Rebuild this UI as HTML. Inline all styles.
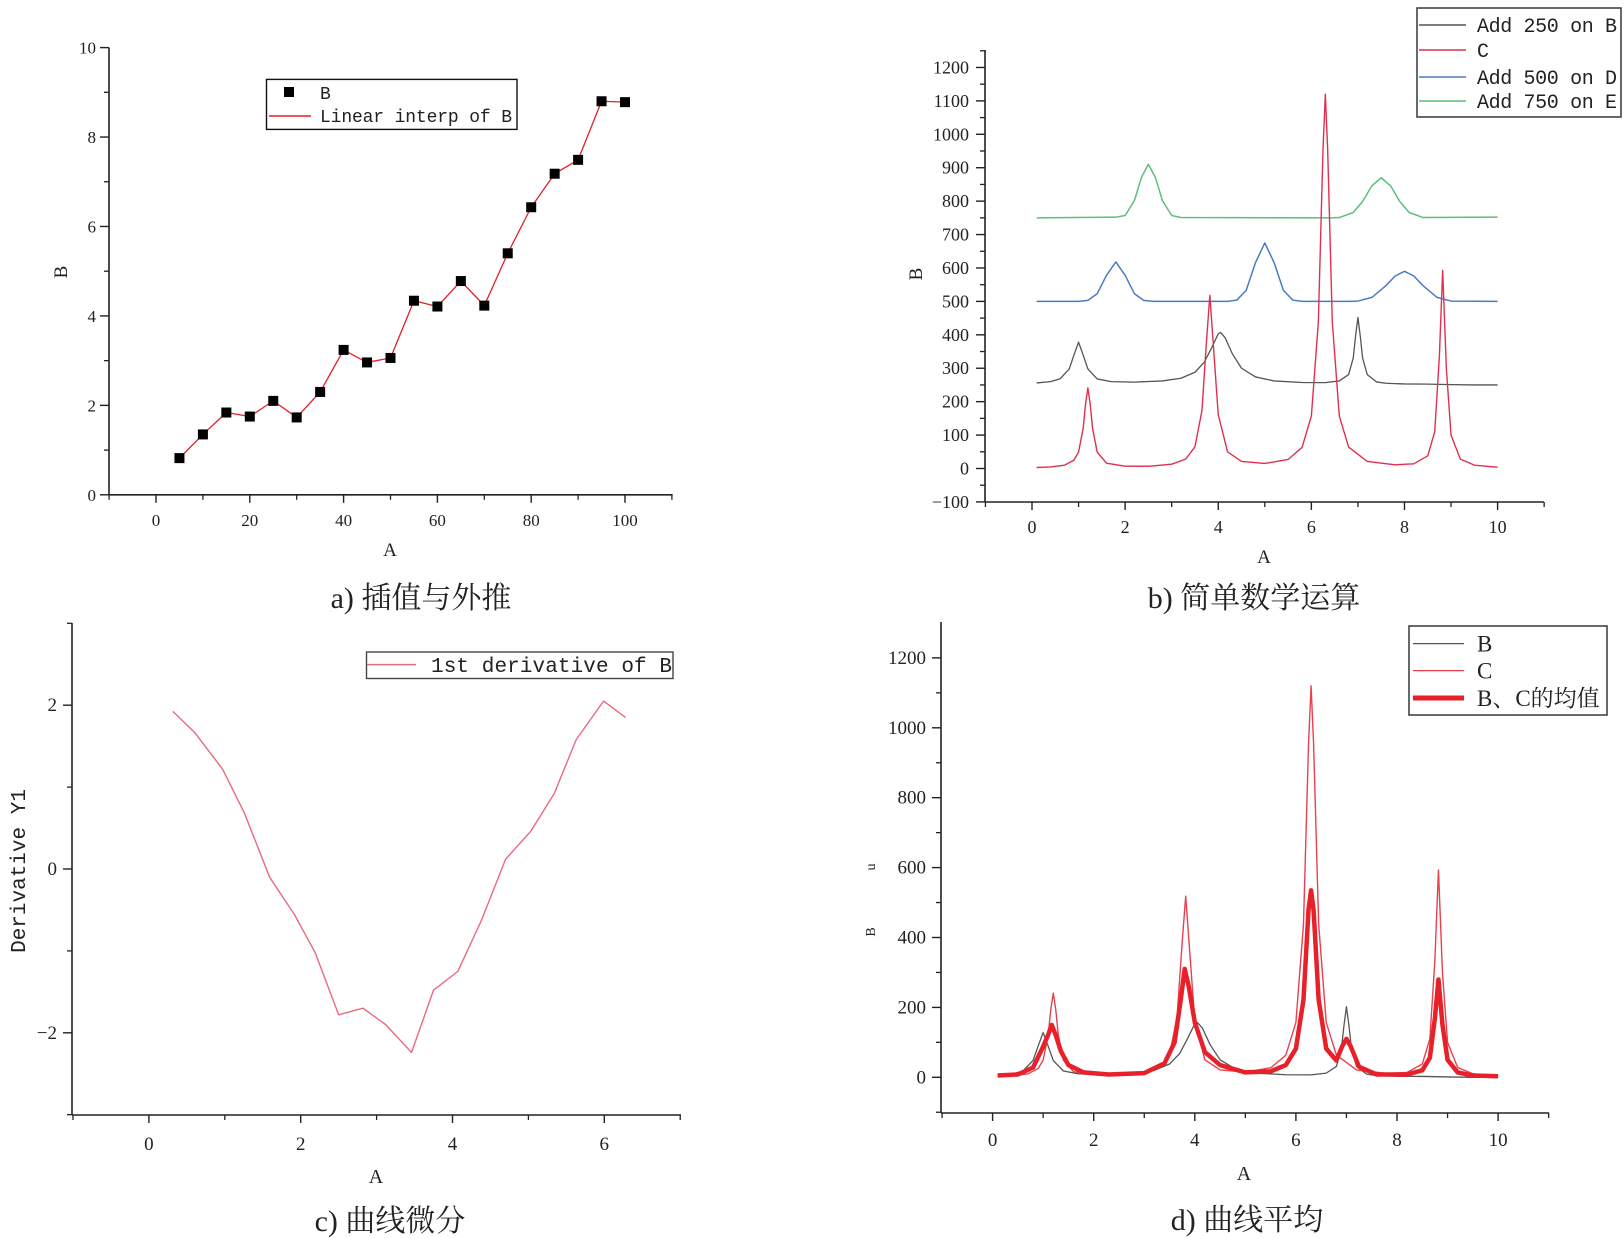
<!DOCTYPE html>
<html><head><meta charset="utf-8"><style>
html,body{margin:0;padding:0;background:#fff;}
svg{display:block;}
text{font-family:"Liberation Serif","Noto Serif CJK SC",serif;fill:#222;}
.mono{font-family:"Liberation Mono","Noto Sans CJK SC",monospace;}
</style></head><body>
<svg id="fig" width="1624" height="1238" viewBox="0 0 1624 1238" xmlns="http://www.w3.org/2000/svg"></svg>
<script>
// ---- Panel a data ----
const aX=[5,10,15,20,25,30,35,40,45,50,55,60,65,70,75,80,85,90,95,100];
const aY=[0.82,1.35,1.84,1.75,2.1,1.73,2.3,3.24,2.96,3.06,4.34,4.21,4.78,4.23,5.4,6.43,7.18,7.49,8.8,8.78];
// ---- B, C, D, E curves ----
const bX=[0.1,0.4,0.6,0.8,0.9,1.0,1.1,1.2,1.4,1.7,2.2,2.8,3.2,3.5,3.7,3.85,4.0,4.05,4.15,4.3,4.5,4.8,5.2,5.8,6.3,6.6,6.8,6.9,6.95,7.0,7.05,7.1,7.2,7.4,7.6,8.0,8.5,9.0,9.5,10];
const bY=[6,10,18,48,89,128,89,48,18,10,8.5,12,20,38,68,109,153,157,141,94,50,24,12,7.3,7,12,31,81,147,202,147,81,31,9,5,3,2.5,1,0,0];
const cX=[0.1,0.4,0.7,0.9,1.0,1.1,1.15,1.2,1.25,1.3,1.4,1.6,2.0,2.5,3.0,3.3,3.5,3.65,3.75,3.82,3.9,4.0,4.2,4.5,5.0,5.5,5.8,6.0,6.15,6.25,6.3,6.35,6.45,6.6,6.8,7.2,7.8,8.2,8.5,8.65,8.75,8.82,8.9,9.0,9.2,9.5,10];
const cY=[3,4.7,10,25,49,121,193,241,193,121,49,16,7,6.7,13,28,65,173,386,518,359,161,50,21,15,27,63,157,438,955,1120,955,438,157,64,21,11,14,38,110,337,593,298,100,28,10,4];
const dX=[0.1,1.0,1.2,1.4,1.6,1.8,2.0,2.2,2.4,2.6,4.2,4.4,4.6,4.8,5.0,5.2,5.4,5.6,5.8,6.8,7.0,7.3,7.6,7.8,8.0,8.2,8.4,8.7,9.0,10];
const dY=[0,0,3,23,78,118,78,23,3,0,0,4,33,116,175,116,33,4,0,0,1,12,47,76,90,76,47,12,1,0];
const eX=[0.1,1.8,2.0,2.2,2.35,2.5,2.65,2.8,3.0,3.2,6.4,6.6,6.9,7.1,7.3,7.5,7.7,7.9,8.1,8.4,10];
const eY=[0,2,7,52,121,160,121,52,7,1,0,1,16,49,96,120,96,49,16,1,2];
const offsets=[250,0,500,750];
// ---- Mean of B and C ----
const mX=[0.1,0.5,0.8,1.0,1.1,1.17,1.25,1.35,1.5,1.8,2.3,3.0,3.4,3.6,3.72,3.8,3.88,4.0,4.2,4.5,5.0,5.5,5.8,6.0,6.15,6.25,6.3,6.35,6.45,6.6,6.8,6.92,7.0,7.08,7.25,7.6,8.2,8.5,8.65,8.75,8.82,8.9,9.0,9.2,9.5,10];
const mY=[5,8,28,88,122,150,120,75,35,14,8,12,40,100,220,310,260,157,72,35,14,17,35,82,222,480,535,478,222,82,48,90,110,90,30,8,8,20,56,170,280,150,50,14,5,3];
// ---- Panel c data ----
const dvX=[0.315,0.6,0.97,1.26,1.59,1.92,2.19,2.5,2.82,3.12,3.46,3.75,4.07,4.38,4.7,5.03,5.34,5.63,5.99,6.28];
const dvY=[1.925,1.67,1.22,0.68,-0.1,-0.56,-1.02,-1.78,-1.70,-1.9,-2.24,-1.48,-1.25,-0.63,0.12,0.46,0.92,1.58,2.05,1.85];
// ---- tick labels ----
const aXT=[0,20,40,60,80,100], aYT=[0,2,4,6,8,10];
const bXT=[0,2,4,6,8,10], bYT=[-100,0,100,200,300,400,500,600,700,800,900,1000,1100,1200];
const cXT=[0,2,4,6], cYT=[-2,0,2];
const dXT=[0,2,4,6,8,10], dYT=[0,200,400,600,800,1000,1200];

const NS='http://www.w3.org/2000/svg';
const svg=document.getElementById('fig');
function mk(tag,attrs,parent){const e=document.createElementNS(NS,tag);for(const k in attrs)e.setAttribute(k,attrs[k]);(parent||svg).appendChild(e);return e;}
function txt(s,attrs,parent){const e=mk('text',attrs,parent);e.textContent=s;return e;}

function axes(g,c){
  // c: x0 (axis x), y0 (axis y), top, right, X(), Y(), xMaj, xMin, yMaj, yMin, fs, xlabY, ylabX
  let e=mk('line',{x1:c.x0,y1:c.top,x2:c.x0,y2:c.y0,stroke:'#222','stroke-width':1.6},g);
  
  e=mk('line',{x1:c.x0,y1:c.y0,x2:c.right,y2:c.y0,stroke:'#222','stroke-width':1.6},g);
  
  c.yMin.forEach(v=>{const t=mk('line',{x1:c.x0-5,y1:c.Y(v),x2:c.x0,y2:c.Y(v),stroke:'#222','stroke-width':1.3},g);
    });
  c.yMaj.forEach(v=>{const t=mk('line',{x1:c.x0-9,y1:c.Y(v),x2:c.x0,y2:c.Y(v),stroke:'#222','stroke-width':1.4},g);
    
    const l=txt(String(v).replace('-','\u2212'),{x:c.ylabX,y:c.Y(v)+6,'text-anchor':'end','font-size':c.fs},g);
    });
  c.xMin.forEach(v=>{const t=mk('line',{x1:c.X(v),y1:c.y0,x2:c.X(v),y2:c.y0+5,stroke:'#222','stroke-width':1.3},g);
    });
  c.xMaj.forEach(v=>{const t=mk('line',{x1:c.X(v),y1:c.y0,x2:c.X(v),y2:c.y0+8,stroke:'#222','stroke-width':1.4},g);
    
    const l=txt(String(v),{x:c.X(v),y:c.xlabY,'text-anchor':'middle','font-size':c.fs},g);
    });
}
function path(g,xs,ys,X,Y,off,stroke,w,name){
  const d=xs.map((x,i)=>(i?'L':'M')+X(x).toFixed(2)+','+Y(ys[i]+off).toFixed(2)).join('');
  const p=mk('path',{d:d,fill:'none',stroke:stroke,'stroke-width':w,'stroke-linejoin':'round'},g);
  return p;
}
function range(a,b,s){const r=[];for(let v=a;v<=b+1e-9;v+=s)r.push(+v.toFixed(6));return r;}

// ================= Panel a =================
(function(){
const g=mk('g',{});

const X=v=>156+v*4.69, Y=v=>494.8-v*44.72;
axes(g,{x0:109,y0:494.8,top:47.6,right:672.6,X,Y,xMaj:aXT,xMin:range(-10,110,10).filter(v=>aXT.indexOf(v)<0),
  yMaj:aYT,yMin:[1,3,5,7,9],fs:17,xlabY:526,ylabX:96});
path(g,aX,aY,X,Y,0,'#e0202a',1.3,'linear-interp-line');
aX.forEach((x,i)=>{const r=mk('rect',{x:X(x)-5,y:Y(aY[i])-5,width:10,height:10,fill:'#000'},g);
  });
let t=txt('A',{x:390,y:556,'text-anchor':'middle','font-size':19},g);
t=txt('B',{x:0,y:0,'text-anchor':'middle','font-size':19,transform:'translate(67,272) rotate(-90)'},g);
const lg=mk('g',{},g);
let b=mk('rect',{x:266.5,y:79.4,width:250.5,height:50,fill:'#fff',stroke:'#111','stroke-width':1.4},lg);
b=mk('rect',{x:284,y:87,width:10,height:10,fill:'#000'},lg);
t=txt('B',{x:320,y:99,'font-size':18,class:'mono'},lg);
b=mk('line',{x1:269,y1:116,x2:311,y2:116,stroke:'#e0202a','stroke-width':1.4},lg);
t=txt('Linear interp of B',{x:320,y:122,'font-size':18,class:'mono',textLength:192},lg);
t=txt('a) 插值与外推',{x:421,y:608,'text-anchor':'middle','font-size':30},g);
})();

// ================= Panel b =================
(function(){
const g=mk('g',{});

const X=v=>1032+v*46.56, Y=v=>468.5-v*0.3342;
axes(g,{x0:985,y0:502,top:50,right:1544,X,Y,xMaj:bXT,xMin:[-1,1,3,5,7,9,11],
  yMaj:bYT,yMin:range(-50,1250,100),fs:18,xlabY:533,ylabX:969});
path(g,bX,bY,X,Y,offsets[0],'#555','1.3','series-add-250-on-b');
path(g,dX,dY,X,Y,offsets[2],'#4a7cc4','1.5','series-add-500-on-d');
path(g,eX,eY,X,Y,offsets[3],'#5cbf7c','1.5','series-add-750-on-e');
path(g,cX,cY,X,Y,offsets[1],'#e03050','1.4','series-c');
let t=txt('A',{x:1264,y:563,'text-anchor':'middle','font-size':19},g);
t=txt('B',{x:0,y:0,'text-anchor':'middle','font-size':19,transform:'translate(922,274) rotate(-90)'},g);
const lg=mk('g',{},g);
let b=mk('rect',{x:1417,y:8,width:204,height:109,fill:'#fff',stroke:'#444','stroke-width':1.6},lg);
const names=['Add 250 on B','C','Add 500 on D','Add 750 on E'], cols=['#555','#e03050','#4a7cc4','#5cbf7c'], rows=[25,50,77,101];
names.forEach((n,i)=>{
  const l=mk('line',{x1:1419,y1:rows[i],x2:1466,y2:rows[i],stroke:cols[i],'stroke-width':1.6},lg);
  
  const tt=txt(n,{x:1477,y:rows[i]+7,'font-size':20,class:'mono'},lg);
  if(n.length>1)tt.setAttribute('textLength',140);
  
});
t=txt('b) 简单数学运算',{x:1254,y:608,'text-anchor':'middle','font-size':30},g);
})();

// ================= Panel c =================
(function(){
const g=mk('g',{});

const X=v=>148.9+v*75.9, Y=v=>869-v*81.9;
axes(g,{x0:72,y0:1115,top:623,right:681,X,Y,xMaj:cXT,xMin:[-1,1,3,5,7],
  yMaj:cYT,yMin:[-3,-1,1,3],fs:19,xlabY:1150,ylabX:57});
path(g,dvX,dvY,X,Y,0,'#e86a80',1.4,'derivative-line');
let t=txt('A',{x:376,y:1183,'text-anchor':'middle','font-size':20},g);
t=txt('Derivative Y1',{x:0,y:0,'text-anchor':'middle','font-size':21,class:'mono',transform:'translate(25,871) rotate(-90)'},g);
const lg=mk('g',{},g);
let b=mk('rect',{x:366.5,y:652,width:306.5,height:26.5,fill:'#fff',stroke:'#444','stroke-width':1.4},lg);
b=mk('line',{x1:367,y1:664.6,x2:416,y2:664.6,stroke:'#e86a80','stroke-width':1.5},lg);
t=txt('1st derivative of B',{x:431,y:672,'font-size':21,class:'mono',textLength:241},lg);
t=txt('c) 曲线微分',{x:390,y:1231,'text-anchor':'middle','font-size':30},g);
})();

// ================= Panel d =================
(function(){
const g=mk('g',{});

const X=v=>992.6+v*50.55, Y=v=>1077.3-v*0.3495;
axes(g,{x0:941,y0:1113,top:622,right:1549,X,Y,xMaj:dXT,xMin:[-1,1,3,5,7,9,11],
  yMaj:dYT,yMin:[-100,100,300,500,700,900,1100,1300].filter(v=>v<1300),fs:19,xlabY:1146,ylabX:926});
path(g,bX,bY,X,Y,0,'#555',1.3,'series-b');
path(g,cX,cY,X,Y,0,'#e8404e',1.4,'series-c');
path(g,mX,mY,X,Y,0,'#e8202a',4.5,'series-mean-bc');
let t=txt('A',{x:1244,y:1180,'text-anchor':'middle','font-size':20},g);
t=txt('B',{x:0,y:0,'text-anchor':'middle','font-size':14,transform:'translate(875,932) rotate(-90)'},g);
t=txt('u',{x:0,y:0,'text-anchor':'middle','font-size':14,transform:'translate(875,867) rotate(-90)'},g);
const lg=mk('g',{},g);
let b=mk('rect',{x:1409,y:626,width:198,height:89,fill:'#fff',stroke:'#444','stroke-width':1.6},lg);
const names=['B','C','B、C的均值'], cols=['#555','#e8404e','#e8202a'], ws=[1.3,1.3,5], rows=[643.6,670.6,698];
names.forEach((n,i)=>{
  const l=mk('line',{x1:1413,y1:rows[i],x2:1464,y2:rows[i],stroke:cols[i],'stroke-width':ws[i]},lg);
  
  const tt=txt(n,{x:1477,y:rows[i]+8,'font-size':23},lg);
  
});
t=txt('d) 曲线平均',{x:1247,y:1230,'text-anchor':'middle','font-size':30},g);
})();
</script>
</body></html>
